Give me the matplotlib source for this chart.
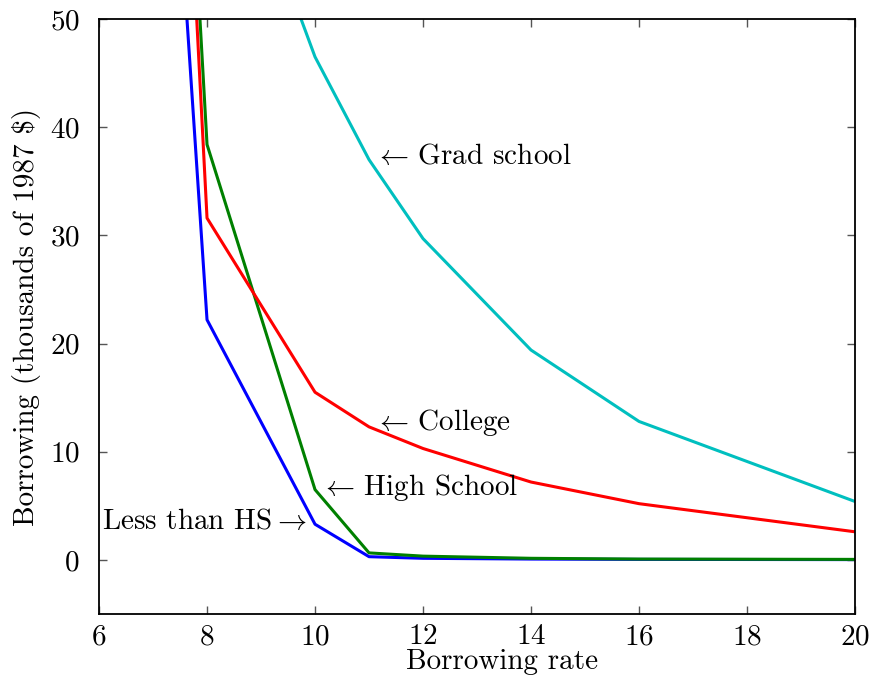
import matplotlib
matplotlib.use("Agg")
import matplotlib.pyplot as plt

plt.rcParams["font.family"] = "cmr10"
plt.rcParams["mathtext.fontset"] = "cm"
plt.rcParams["axes.unicode_minus"] = False
plt.rcParams["axes.formatter.use_mathtext"] = True

# Borrowing (thousands of 1987 $) by borrowing rate, for each schooling level
rate_low = [7, 8, 10, 11, 12, 14, 16, 20]
less_than_hs = [97.0, 22.2, 3.3, 0.3, 0.15, 0.08, 0.05, 0.03]
high_school = [127.0, 38.4, 6.5, 0.65, 0.35, 0.15, 0.08, 0.05]
college = [128.0, 31.6, 15.5, 12.3, 10.3, 7.2, 5.2, 2.6]

rate_grad = [9, 10, 11, 12, 14, 16, 20]
grad_school = [60.0, 46.5, 37.0, 29.7, 19.4, 12.8, 5.4]

x_ticks = [6, 8, 10, 12, 14, 16, 18, 20]
y_ticks = [0, 10, 20, 30, 40, 50]

fig = plt.figure(figsize=(8.74, 6.79), dpi=100)
ax = fig.add_axes([0.1133, 0.0957, 0.8650, 0.8763])

lw = 2.2
ax.plot(rate_low, less_than_hs, color="#0000ff", lw=lw)
ax.plot(rate_low, high_school, color="#008000", lw=lw)
ax.plot(rate_low, college, color="#ff0000", lw=lw)
ax.plot(rate_grad, grad_school, color="#00bfbf", lw=lw)

ax.set_xlim(6, 20)
ax.set_ylim(-5, 50)
ax.set_xticks(x_ticks)
ax.set_yticks(y_ticks)
ax.tick_params(direction="in", length=6, width=1.0, color="#555555",
               labelsize=21, top=True, right=True)
ax.tick_params(axis="y", pad=14)
ax.tick_params(axis="x", pad=7)
for s in ax.spines.values():
    s.set_linewidth(1.3)

lab = 21
ax.text(11.1, 37.3, r"$\leftarrow\,$Grad school", fontsize=lab, va="center", ha="left")
ax.text(11.1, 12.7, r"$\leftarrow\,$College", fontsize=lab, va="center", ha="left")
ax.text(10.1, 6.7, r"$\leftarrow\,$High School", fontsize=lab, va="center", ha="left")
ax.text(9.85, 3.5, r"Less than HS$\rightarrow$", fontsize=lab, va="center", ha="right")

ax.set_xlabel("Borrowing rate", fontsize=lab)
ax.xaxis.set_label_coords(0.533, -0.058)
ax.set_ylabel("Borrowing (thousands of 1987 $)", fontsize=lab, labelpad=6)

fig.savefig("out.png", dpi=100)
